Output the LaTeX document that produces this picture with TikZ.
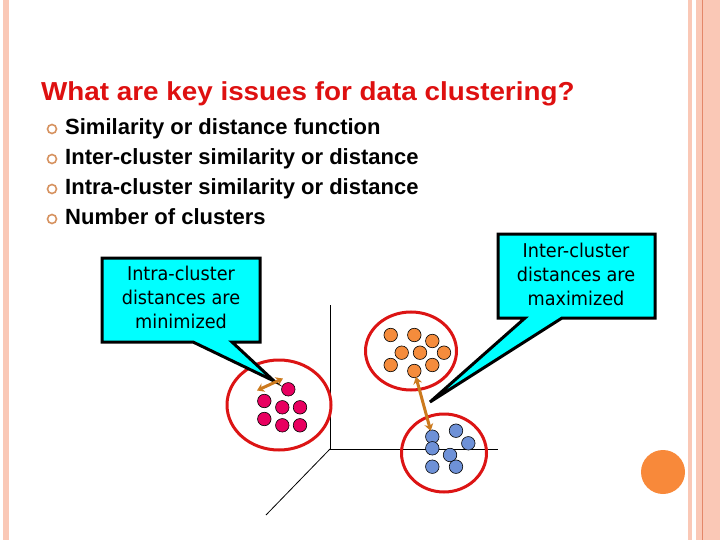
\documentclass[tikz,border=0pt]{standalone}
\usepackage{fontspec}
\setmainfont{Liberation Sans}
\newfontfamily\titlefont[FakeStretch=1.07]{Liberation Sans}
\newfontfamily\callfont[FakeStretch=0.93]{DejaVu Sans}
\usetikzlibrary{arrows.meta,shapes.geometric}
\definecolor{stripe}{RGB}{250,200,182}
\definecolor{stripedark}{RGB}{228,135,105}
\definecolor{titlered}{RGB}{222,16,16}
\definecolor{bulletc}{RGB}{214,146,96}
\definecolor{calloutc}{RGB}{0,255,255}
\definecolor{ringred}{RGB}{220,20,20}
\definecolor{pinkdot}{RGB}{232,0,96}
\definecolor{orangedot}{RGB}{245,140,60}
\definecolor{bluedot}{RGB}{110,145,215}
\definecolor{arrowc}{RGB}{204,122,30}
\definecolor{bigdot}{RGB}{248,137,58}
\tikzset{
  bulletmark/.style={circle,draw=bulletc,line width=1.6pt,minimum size=9pt,inner sep=0pt},
  itemtext/.style={anchor=base west,inner sep=0pt,font=\fontsize{22}{24}\selectfont\bfseries},
  dot/.style={circle,draw=black,line width=0.6pt,minimum size=13.5pt,inner sep=0pt},
  pdot/.style={dot,fill=pinkdot},
  odot/.style={dot,fill=orangedot},
  bdot/.style={dot,fill=bluedot},
  ring/.style={ellipse,draw=ringred,line width=3pt,inner sep=0pt},
  callout/.style={fill=calloutc,draw=black,line width=3pt,line join=miter},
  calltext/.style={align=center,inner sep=0pt,font=\callfont\fontsize{19}{24}\selectfont},
  dblarrow/.style={draw=arrowc,line width=3pt,{Stealth[length=7pt,width=9pt]}-{Stealth[length=7pt,width=9pt]}},
  axis/.style={draw=black,line width=0.8pt}
}
\begin{document}
\begin{tikzpicture}[x=1pt,y=-1pt]
\useasboundingbox (0,0) rectangle (720,540);
% side stripes
\fill[stripe] (3,0) rectangle (9,540);
\fill[stripe] (688,0) rectangle (691.5,540);
\fill[stripe] (696,0) rectangle (720,540);
\draw[stripedark,line width=0.8pt] (702.5,0) -- (702.5,540);
% title
\node[anchor=base west,inner sep=0pt,text=titlered,font=\titlefont\fontsize{26}{28}\selectfont\bfseries] (title) at (41,100.5) {What are key issues for data clustering?};
% bullets
\node[bulletmark] (b1m) at (52,129) {};
\node[itemtext] (i1) at (65,135) {Similarity or distance function};
\node[bulletmark] (b2m) at (52,159) {};
\node[itemtext] (i2) at (65,165) {Inter-cluster similarity or distance};
\node[bulletmark] (b3m) at (52,189) {};
\node[itemtext] (i3) at (65,195) {Intra-cluster similarity or distance};
\node[bulletmark] (b4m) at (52,219) {};
\node[itemtext] (i4) at (65,225) {Number of clusters};
% axes
\coordinate (origin) at (330,449);
\coordinate (ytop) at (330,305);
\coordinate (xend) at (498,449);
\coordinate (zend) at (266,515);
\draw[axis] (ytop) -- (origin) -- (xend);
\draw[axis] (origin) -- (zend);
% clusters
\node[ring,minimum width=104pt,minimum height=90pt] (c1) at (279,405) {};
\node[ring,minimum width=91pt,minimum height=78pt] (c2) at (411,351) {};
\node[ring,minimum width=85pt,minimum height=78pt] (c3) at (444,453) {};
% pink dots
\node[pdot] (p1) at (288.3,389.3) {};
\node[pdot] (p2) at (264.3,401) {};
\node[pdot] (p3) at (282.3,407.3) {};
\node[pdot] (p4) at (300,407.3) {};
\node[pdot] (p5) at (264.3,419) {};
\node[pdot] (p6) at (282.3,425.3) {};
\node[pdot] (p7) at (300,425.3) {};
% orange dots
\node[odot] (o1) at (390.7,335) {};
\node[odot] (o2) at (414.3,335) {};
\node[odot] (o3) at (432.3,341) {};
\node[odot] (o4) at (401.7,352.7) {};
\node[odot] (o5) at (420,352.7) {};
\node[odot] (o6) at (444,352.7) {};
\node[odot] (o7) at (390.7,365) {};
\node[odot] (o8) at (432.3,365) {};
\node[odot] (o9) at (414.3,371) {};
% blue dots
\node[bdot] (u1) at (432.3,436.7) {};
\node[bdot] (u2) at (456,430.7) {};
\node[bdot] (u3) at (468.3,443.3) {};
\node[bdot] (u4) at (432.3,448.3) {};
\node[bdot] (u5) at (450,455) {};
\node[bdot] (u6) at (432.3,466.7) {};
\node[bdot] (u7) at (456,466.7) {};
% callout 1
\draw[callout] (102,258) -- (260,258) -- (260,342) -- (232,342) -- (274,381) -- (193,342) -- (102,342) -- cycle;
\node[calltext] (t1) at (181,297) {Intra-cluster\\distances are\\minimized};
% callout 2
\draw[callout] (498,234) -- (655,234) -- (655,318) -- (562,318) -- (430,402) -- (525,318) -- (498,318) -- cycle;
\node[calltext] (t2) at (576,274) {Inter-cluster\\distances are\\maximized};
% arrows
\coordinate (a1s) at (257,390.5);
\coordinate (a1e) at (283,378.5);
\draw[dblarrow] (a1s) -- (a1e);
\draw[dblarrow,shorten <=-1pt,shorten >=-1pt] (o9) -- (u1);
% decorative circle
\node[circle,fill=bigdot,minimum size=44pt,inner sep=0pt] (deco) at (663,472) {};
\end{tikzpicture}
\end{document}
